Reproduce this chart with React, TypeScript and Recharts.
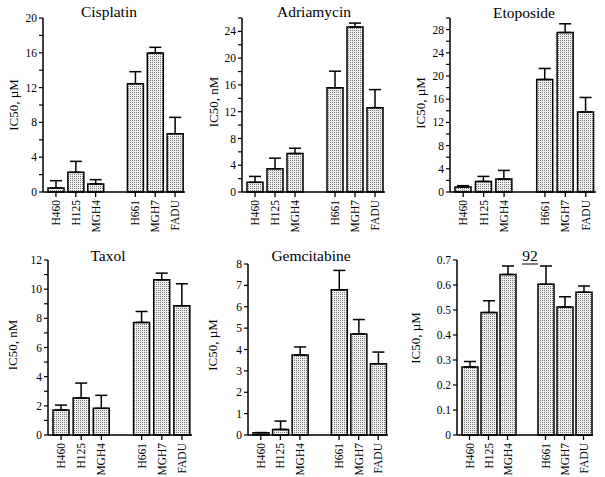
import { BarChart, Bar, XAxis, YAxis, ErrorBar } from "recharts";

const cellLines = ["H460", "H125", "MGH4", "H661", "MGH7", "FADU"];

const cisplatin = [0.46, 2.26, 0.92, 12.45, 15.98, 6.7];
const cisplatinErr = [0.84, 1.26, 0.5, 1.38, 0.65, 1.88];
const cisplatinTicks = [0, 2, 4, 6, 8, 10, 12, 14, 16, 18, 20];
const cisplatinLabels = [0, 4, 8, 12, 16, 20];

const adriamycin = [1.44, 3.47, 5.75, 15.57, 24.64, 12.6];
const adriamycinErr = [0.89, 1.59, 0.79, 2.48, 0.6, 2.7];
const adriamycinTicks = [0, 2, 4, 6, 8, 10, 12, 14, 16, 18, 20, 22, 24, 26];
const adriamycinLabels = [0, 4, 8, 12, 16, 20, 24];

const etoposide = [0.86, 1.83, 2.23, 19.4, 27.5, 13.8];
const etoposideErr = [0.23, 0.86, 1.49, 1.9, 1.5, 2.5];
const etoposideTicks = [0, 2, 4, 6, 8, 10, 12, 14, 16, 18, 20, 22, 24, 26, 28, 30];
const etoposideLabels = [0, 4, 8, 12, 16, 20, 24, 28];

const taxol = [1.71, 2.53, 1.83, 7.72, 10.64, 8.86];
const taxolErr = [0.34, 1.03, 0.89, 0.75, 0.46, 1.51];
const taxolTicks = [0, 1, 2, 3, 4, 5, 6, 7, 8, 9, 10, 11, 12];
const taxolLabels = [0, 2, 4, 6, 8, 10, 12];

const gemcitabine = [0.11, 0.26, 3.74, 6.79, 4.73, 3.33];
const gemcitabineErr = [0, 0.39, 0.38, 0.91, 0.67, 0.55];
const gemcitabineTicks = [0, 1, 2, 3, 4, 5, 6, 7, 8];

const compound92 = [0.272, 0.49, 0.642, 0.603, 0.512, 0.571];
const compound92Err = [0.022, 0.047, 0.034, 0.073, 0.041, 0.025];
const compound92Ticks = [0, 0.1, 0.2, 0.3, 0.4, 0.5, 0.6, 0.7];

const W = 605;
const H = 477;
const FONT = '"Liberation Serif", "Times New Roman", serif';

function buildRows(values: number[], errs: number[]) {
  const rows: any[] = cellLines.map((name, i) => ({
    name,
    value: values[i],
    err: [0, errs[i]],
  }));
  // empty slot between the two groups of cell lines
  rows.splice(3, 0, { name: "", value: null, err: null });
  return rows;
}

type PanelProps = {
  values: number[];
  errs: number[];
  ticks: number[];
  labels: number[];
  axisX: number;
  right: number;
  top: number;
  bottom: number;
};

function Panel({ values, errs, ticks, labels, axisX, right, top, bottom }: PanelProps) {
  const data = buildRows(values, errs);
  const yw = 30;
  const xh = 40;
  const XTick = ({ x, payload }: any) => {
    if (!payload.value) return null;
    return (
      <g>
        <line x1={x} y1={bottom} x2={x} y2={bottom + 5} stroke="#000" strokeWidth={1.3} />
        <text
          x={x}
          y={bottom + 8}
          transform={`rotate(-90, ${x}, ${bottom + 8})`}
          textAnchor="end"
          dy="0.35em"
          fontSize={11.5}
          fontFamily={FONT}
          fill="#000"
        >
          {payload.value}
        </text>
      </g>
    );
  };
  return (
    <div style={{ position: "absolute", left: 0, top: 0 }}>
      <BarChart
        width={W}
        height={H}
        data={data}
        margin={{ top, left: axisX - yw, right: W - right, bottom: H - bottom - xh }}
        barSize={16}
      >
        <XAxis
          dataKey="name"
          interval={0}
          height={xh}
          tickLine={false}
          tick={<XTick />}
          axisLine={{ stroke: "#000", strokeWidth: 1.5 }}
          padding={{ left: 3, right: 0 }}
        />
        <YAxis
          width={yw}
          domain={[0, ticks[ticks.length - 1]]}
          ticks={ticks}
          interval={0}
          tickSize={4}
          tickMargin={2}
          tickFormatter={(v: number) => (labels.includes(v) ? String(v) : "")}
          tick={{ fontSize: 11.5, fontFamily: FONT, fill: "#000" }}
          tickLine={{ stroke: "#000", strokeWidth: 1.2 }}
          axisLine={{ stroke: "#000", strokeWidth: 1.5 }}
        />
        <Bar
          dataKey="value"
          fill="url(#dots)"
          stroke="#000"
          strokeWidth={1.5}
          isAnimationActive={false}
        >
          <ErrorBar dataKey="err" width={6} stroke="#000" strokeWidth={1.5} direction="y" />
        </Bar>
      </BarChart>
    </div>
  );
}

const titles = [
  { text: "Cisplatin", x: 109, y: 17 },
  { text: "Adriamycin", x: 314, y: 17 },
  { text: "Etoposide", x: 524, y: 18 },
  { text: "Taxol", x: 108, y: 261 },
  { text: "Gemcitabine", x: 311, y: 261 },
];

const yTitles = [
  { text: "IC50, µM", x: 13, y: 105 },
  { text: "IC50, nM", x: 213, y: 102 },
  { text: "IC50, µM", x: 420, y: 103 },
  { text: "IC50, nM", x: 12, y: 345 },
  { text: "IC50, µM", x: 212, y: 345 },
  { text: "IC50, µM", x: 415, y: 338 },
];

export default function App() {
  return (
    <div
      style={{
        position: "absolute",
        left: 0,
        top: 0,
        width: W,
        height: H,
        background: "#fff",
        fontFamily: FONT,
      }}
    >
      <svg width={W} height={H} style={{ position: "absolute", left: 0, top: 0 }}>
        <defs>
          <pattern id="dots" width={2} height={2} patternUnits="userSpaceOnUse">
            <rect width={2} height={2} fill="#efefef" />
            <rect x={0} y={0} width={1} height={1} fill="#7a7a7a" />
          </pattern>
        </defs>
        {titles.map((t) => (
          <text
            key={t.text}
            x={t.x}
            y={t.y}
            textAnchor="middle"
            fontSize={15.5}
            fontFamily={FONT}
            fill="#000"
          >
            {t.text}
          </text>
        ))}
        <text x={530} y={261} textAnchor="middle" fontSize={15.5} fontFamily={FONT} fill="#000">
          92
        </text>
        <line x1={522} y1={264} x2={538} y2={264} stroke="#000" strokeWidth={1} />
        {yTitles.map((t, i) => (
          <text
            key={i}
            x={t.x}
            y={t.y}
            transform={`rotate(-90, ${t.x}, ${t.y})`}
            textAnchor="middle"
            dy="0.35em"
            fontSize={13}
            fontFamily={FONT}
            fill="#000"
          >
            {t.text}
          </text>
        ))}
      </svg>
      <Panel values={cisplatin} errs={cisplatinErr} ticks={cisplatinTicks} labels={cisplatinLabels}
        axisX={43} right={185} top={18} bottom={192} />
      <Panel values={adriamycin} errs={adriamycinErr} ticks={adriamycinTicks} labels={adriamycinLabels}
        axisX={242} right={385} top={18} bottom={192} />
      <Panel values={etoposide} errs={etoposideErr} ticks={etoposideTicks} labels={etoposideLabels}
        axisX={450} right={596} top={18} bottom={192} />
      <Panel values={taxol} errs={taxolErr} ticks={taxolTicks} labels={taxolLabels}
        axisX={48} right={192} top={260} bottom={435} />
      <Panel values={gemcitabine} errs={gemcitabineErr} ticks={gemcitabineTicks} labels={gemcitabineTicks}
        axisX={248} right={388} top={264} bottom={435} />
      <Panel values={compound92} errs={compound92Err} ticks={compound92Ticks} labels={compound92Ticks}
        axisX={457} right={593} top={260} bottom={435} />
    </div>
  );
}
